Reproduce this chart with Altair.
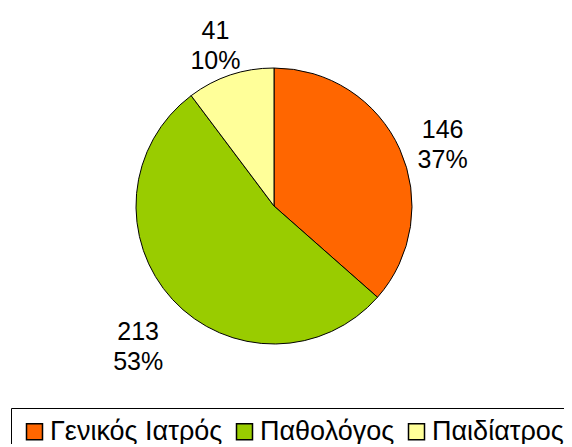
import altair as alt
import pandas as pd

categories = ["Γενικός Ιατρός", "Παθολόγος", "Παιδίατρος"]
counts = [146, 213, 41]
percents = [37, 53, 10]
colors = ["#FF6600", "#99CC00", "#FFFF99"]

df = pd.DataFrame({
    "idx": list(range(len(categories))),
    "cat": categories,
    "count": counts,
    "label": [f"{c}\n{p}%" for c, p in zip(counts, percents)],
})

FONT = "Liberation Sans, Arial, sans-serif"

base = alt.Chart(df).encode(
    theta=alt.Theta("count:Q", stack=True),
    order=alt.Order("idx:Q"),
)

pie = base.mark_arc(radius=138, stroke="black", strokeWidth=1).encode(
    x=alt.value(266),
    y=alt.value(198),
    color=alt.Color(
        "cat:N",
        scale=alt.Scale(domain=categories, range=colors),
        legend=alt.Legend(
            title=None,
            orient="none",
            legendX=3,
            legendY=400,
            direction="horizontal",
            symbolType="square",
            symbolSize=256,
            symbolStrokeColor="black",
            symbolStrokeWidth=1.5,
            symbolOpacity=1,
            labelFontSize=27,
            labelFont=FONT,
            labelColor="black",
            labelOffset=2,
            labelLimit=0,
            columnPadding=8,
            strokeColor="black",
            fillColor="white",
            padding=10,
        ),
    ),
)

labels = base.mark_text(
    radius=185, fontSize=25, font=FONT, lineBreak="\n", lineHeight=30,
    color="black", align="center", baseline="middle",
).encode(
    x=alt.value(266),
    y=alt.value(198),
    detail="cat:N",
    text="label:N",
)

chart = (
    alt.layer(pie, labels)
    .properties(width=556, height=436, autosize=alt.AutoSizeParams(type="none"), padding=0)
    .configure_view(strokeWidth=0)
)

chart.save("out.html", embed_options={"renderer": "svg", "actions": False})
